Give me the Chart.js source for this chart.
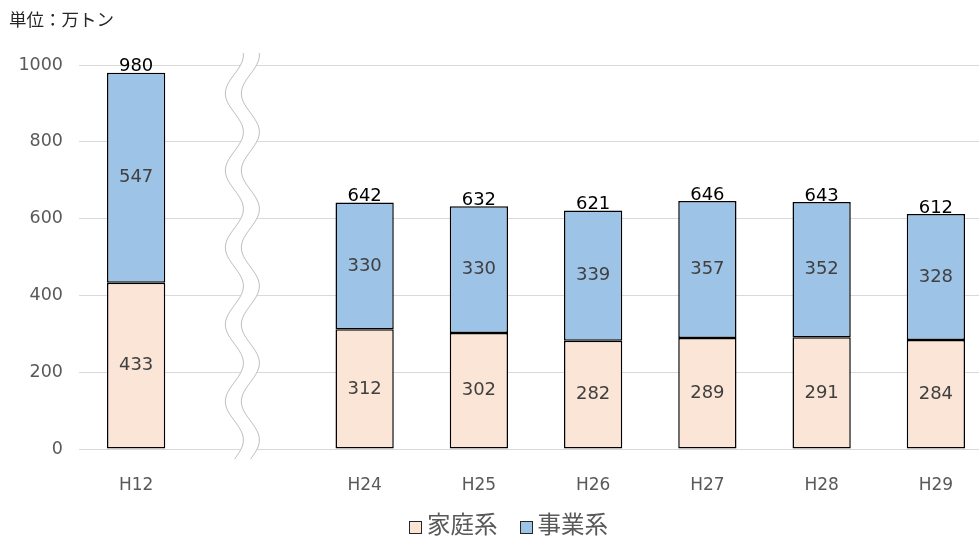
<!DOCTYPE html>
<html>
<head>
<meta charset="utf-8">
<script src="https://cdn.jsdelivr.net/npm/chart.js@4/dist/chart.umd.min.js"></script>
<style>
  html, body { margin: 0; padding: 0; background: #fff; overflow: hidden; }
  #wrap { position: relative; width: 994px; height: 542px; }
  #unit { position: absolute; left: 9px; top: 6px; font: 17.5px "Noto Sans CJK JP", sans-serif; color: #262626; }
  #legend { position: absolute; left: 409px; top: 508px; font: 23.5px/30px "Noto Sans CJK JP", sans-serif; color: #595959; white-space: nowrap; }
  #legend span.box { display: inline-block; width: 11px; height: 11px; border: 1px solid #262626; margin-right: 5px; vertical-align: -1px; }
  #legend span.item { margin-right: 22px; }
</style>
</head>
<body>
<div id="wrap">
  <canvas id="chart" width="994" height="542"></canvas>
  <div id="unit">単位：万トン</div>
  <div id="legend"></div>
</div>
<script>
'use strict';

// years on the x axis, the empty one is where the axis break sits
var years = ['H12', '', 'H24', 'H25', 'H26', 'H27', 'H28', 'H29'];
// household waste (万トン)
var household = [433, null, 312, 302, 282, 289, 291, 284];
// business waste (万トン)
var business = [547, null, 330, 330, 339, 357, 352, 328];
// y axis ticks
var yTicks = [0, 200, 400, 600, 800, 1000];

var seriesNames = ['家庭系', '事業系'];
var seriesColors = ['#FBE5D6', '#9DC3E6'];

// value inside each block, plus the total above each column
var labelPlugin = {
  id: 'valueLabels',
  afterDatasetsDraw: function(chart){
    var ctx = chart.ctx;
    ctx.save();
    ctx.textAlign = 'center';
    ctx.textBaseline = 'middle';
    ctx.font = '18px "DejaVu Sans", sans-serif';
    ctx.fillStyle = '#404040';
    chart.data.datasets.forEach(function(ds, i){
      var meta = chart.getDatasetMeta(i);
      meta.data.forEach(function(bar, j){
        if (ds.data[j] === null) return;
        ctx.fillText(String(ds.data[j]), bar.x, (bar.y + bar.base) / 2);
      });
    });
    var topMeta = chart.getDatasetMeta(chart.data.datasets.length - 1);
    ctx.fillStyle = '#000';
    ctx.textBaseline = 'bottom';
    topMeta.data.forEach(function(bar, j){
      if (household[j] === null) return;
      var total = household[j] + business[j];
      ctx.fillText(String(total), bar.x, bar.y + 3);
    });
    ctx.restore();
  }
};

// wavy band showing the cut between H12 and H24
var breakPlugin = {
  id: 'axisBreak',
  afterDraw: function(chart){
    var ctx = chart.ctx;
    var area = chart.chartArea;
    var cx = chart.scales.x.getPixelForValue(1) - 8;
    var top = area.top - 12;
    var bottom = area.bottom + 10;
    var half = 8;
    var amp = 9;
    var period = 77;
    var left = [], right = [];
    for (var y = top; y <= bottom; y += 1) {
      var x = cx + amp * Math.cos(2 * Math.PI * (y - top - 2) / period);
      left.push([x - half, y]);
      right.push([x + half, y]);
    }
    ctx.save();
    ctx.beginPath();
    left.forEach(function(p, k){ if (k === 0) ctx.moveTo(p[0], p[1]); else ctx.lineTo(p[0], p[1]); });
    for (var k = right.length - 1; k >= 0; k--) ctx.lineTo(right[k][0], right[k][1]);
    ctx.closePath();
    ctx.fillStyle = '#fff';
    ctx.fill();
    ctx.strokeStyle = '#BFBFBF';
    ctx.lineWidth = 1;
    [left, right].forEach(function(edge){
      ctx.beginPath();
      edge.forEach(function(p, k){ if (k === 0) ctx.moveTo(p[0], p[1]); else ctx.lineTo(p[0], p[1]); });
      ctx.stroke();
    });
    ctx.restore();
  }
};

var ctx = document.getElementById('chart').getContext('2d');
var chart = new Chart(ctx, {
  type: 'bar',
  data: {
    labels: years,
    datasets: [{
      label: seriesNames[0],
      data: household,
      backgroundColor: seriesColors[0],
      borderColor: '#000',
      borderWidth: 1.5,
      borderSkipped: false
    }, {
      label: seriesNames[1],
      data: business,
      backgroundColor: seriesColors[1],
      borderColor: '#000',
      borderWidth: 1.5,
      borderSkipped: false
    }]
  },
  options: {
    responsive: false,
    animation: false,
    devicePixelRatio: 1,
    layout: { padding: { top: 65, right: 1, left: 0, bottom: 0 } },
    datasets: { bar: { barPercentage: 1, categoryPercentage: 0.51 } },
    plugins: {
      legend: { display: false },
      tooltip: { enabled: false }
    },
    scales: {
      x: {
        stacked: true,
        grid: { display: false, drawTicks: false },
        border: { display: false },
        ticks: { color: '#595959', font: { family: 'DejaVu Sans', size: 17 }, padding: 26 },
        afterFit: function(scale){ scale.height = 93; }
      },
      y: {
        stacked: true,
        min: yTicks[0],
        max: yTicks[yTicks.length - 1],
        afterBuildTicks: function(scale){
          scale.ticks = yTicks.map(function(v){ return { value: v }; });
        },
        grid: { color: '#D9D9D9', lineWidth: 1, drawTicks: false },
        border: { display: false },
        ticks: {
          color: '#595959',
          font: { family: 'DejaVu Sans', size: 17.5 },
          padding: 16,
          callback: function(v){ return String(v); }
        },
        afterFit: function(scale){ scale.width = 79; }
      }
    }
  },
  plugins: [labelPlugin, breakPlugin]
});

// legend drawn from the dataset names and colours
var legendBox = document.getElementById('legend');
chart.data.datasets.forEach(function(ds){
  var item = document.createElement('span');
  item.className = 'item';
  var box = document.createElement('span');
  box.className = 'box';
  box.style.background = ds.backgroundColor;
  item.appendChild(box);
  item.appendChild(document.createTextNode(ds.label));
  legendBox.appendChild(item);
});
</script>
</body>
</html>
